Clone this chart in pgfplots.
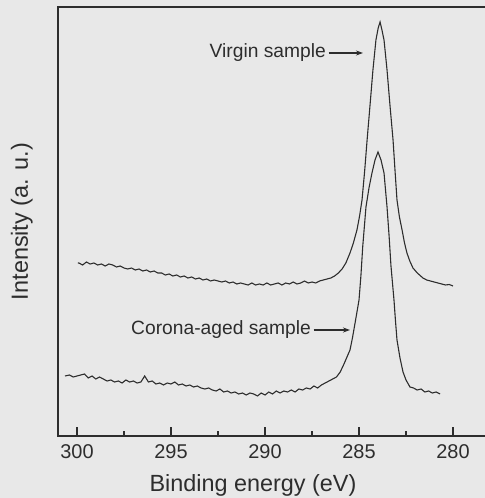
\documentclass[border=0pt]{standalone}
\usepackage{pgfplots}
\pgfplotsset{compat=1.18}
\usepackage{fontspec}
\setmainfont{Liberation Sans}
\usetikzlibrary{arrows.meta}
\definecolor{ink}{RGB}{45,45,45}
\definecolor{bg}{RGB}{232,232,232}
\begin{document}
\begin{tikzpicture}
\useasboundingbox (-58bp,-62bp) rectangle (427bp,436bp);
\fill[bg] (-58bp,-62bp) rectangle (427bp,436bp);
\begin{axis}[
  at={(0,0)}, anchor=south west,
  scale only axis, width=430bp, height=429bp,
  x dir=reverse, xmin=278.14, xmax=301.01, ymin=0, ymax=429,
  axis line style={ink, line width=1.1pt},
  xtick={280,285,290,295,300}, minor xtick={282.5,287.5,292.5,297.5},
  xtick pos=bottom, tick align=inside,
  major tick length=9bp, minor tick length=5bp,
  tick style={ink, line width=1.1pt},
  ytick=\empty,
  /pgf/number format/assume math mode=true,
  ticklabel style={font=\fontsize{20}{24}\selectfont, text=ink},
  xticklabel style={yshift=-5bp},
  xlabel={Binding energy (eV)}, ylabel={Intensity (a. u.)},
  label style={font=\fontsize{23.5}{28}\selectfont, text=ink},
  xlabel style={at={(axis description cs:0.4535,-0.1305)}, anchor=base},
  ylabel style={at={(axis description cs:-0.084,0.5)}, anchor=center},
  clip=false,
]
\addplot[ink, line width=1.1pt] coordinates {
(299.95,173)(299.9,173)(299.7,171)(299.5,174)(299.3,172)(299.1,173)(298.9,171)(298.7,172)(298.5,170)(298.3,172)(298.1,171)
(297.9,169)(297.7,170)(297.5,168)(297.3,167)(297.1,168)(296.9,166)(296.7,167)(296.5,165)(296.3,166)(296.1,164)
(295.9,165)(295.7,163)(295.5,163)(295.3,161)(295.1,162)(294.9,160)(294.7,161)(294.5,159)(294.3,160)(294.1,158)
(293.9,159)(293.7,157)(293.5,158)(293.3,156)(293.1,157)(292.9,155)(292.7,156)(292.5,155)(292.3,154)(292.1,155)
(291.9,153)(291.7,154)(291.5,152)(291.3,153)(291.1,152)(290.9,151)(290.7,153)(290.5,151)(290.3,152)(290.1,151)
(289.9,153)(289.7,151)(289.5,152)(289.3,153)(289.1,151)(288.9,153)(288.7,152)(288.5,154)(288.3,152)(288.1,153)
(287.9,155)(287.7,153)(287.5,154)(287.3,153)(287.1,155)(286.9,156)(286.7,157)(286.5,158)(286.3,160)(286.1,163)
(285.9,167)(285.7,173)(285.48,183)(285.3,193)(285.11,206)(284.97,220)(284.84,236)(284.7,265)(284.57,296)
(284.4,334)(284.26,366)(284.1,396)(283.98,408)(283.88,414)(283.78,406)(283.67,396)(283.51,366)(283.35,330)
(283.19,296)(283.08,264)(282.98,236)(282.85,219)(282.71,206)(282.58,193)(282.45,183)(282.3,175)(282.13,168)
(281.9,163)(281.6,158)(281.4,156)(281.2,155)(281.0,154)(280.8,153)(280.6,152)(280.4,151)(280.2,151.5)(280.0,150)
};
\addplot[ink, line width=1.1pt] coordinates {
(300.64,60)(300.4,61)(300.2,59)(300.0,60)(299.8,61)(299.6,62)(299.4,58)(299.2,60)(299.0,57)(298.8,59)(298.6,57)
(298.4,55)(298.2,56)(298.0,54)(297.8,55)(297.6,53)(297.4,56)(297.2,54)(297.0,55)(296.8,53)(296.6,54)(296.4,60)
(296.2,54)(296.0,55)(295.8,52)(295.6,53)(295.4,51)(295.2,53)(295.0,52)(294.8,54)(294.6,51)(294.4,52)(294.2,50)
(294.0,51)(293.8,49)(293.6,50)(293.4,48)(293.2,47)(293.0,48)(292.8,46)(292.6,45)(292.4,47)(292.2,44)(292.0,45)
(291.8,43)(291.6,44)(291.4,42)(291.2,43)(291.0,41)(290.8,43)(290.6,42)(290.4,40)(290.2,43)(290.0,41)(289.8,44)
(289.6,42)(289.4,45)(289.2,43)(289.0,45)(288.8,44)(288.6,46)(288.4,44)(288.2,47)(288.0,46)(287.8,48)(287.6,47)
(287.4,50)(287.2,48)(287.0,51)(286.8,53)(286.6,55)(286.4,57)(286.2,59)(286.0,64)(285.8,72)(285.64,79)(285.48,86)
(285.35,98)(285.21,113)(285.1,125)(285.0,136)(284.9,160)(284.8,190)(284.63,229)(284.47,248)(284.31,263)
(284.15,276)(283.99,284)(283.83,276)(283.67,263)(283.51,229)(283.4,200)(283.3,170)(283.14,136)(283.06,115)
(282.98,96)(282.82,78)(282.66,64)(282.5,56)(282.29,49)(282.1,48)(281.91,46)(281.7,47)(281.5,44)(281.3,45)
(281.1,43)(280.9,44)(280.69,42)
};
\node[anchor=east, text=ink, font=\fontsize{19.3}{23}\selectfont, inner sep=1bp] at (axis cs:286.70,383) {Virgin sample};
\draw[ink, line width=1.1pt, -{Stealth[length=7bp,width=5bp]}] (axis cs:286.62,383) -- (axis cs:284.79,383);
\node[anchor=east, text=ink, font=\fontsize{19.3}{23}\selectfont, inner sep=1bp] at (axis cs:287.50,106) {Corona-aged sample};
\draw[ink, line width=1.1pt, -{Stealth[length=7bp,width=5bp]}] (axis cs:287.42,106) -- (axis cs:285.48,106);
\end{axis}
\end{tikzpicture}
\end{document}
